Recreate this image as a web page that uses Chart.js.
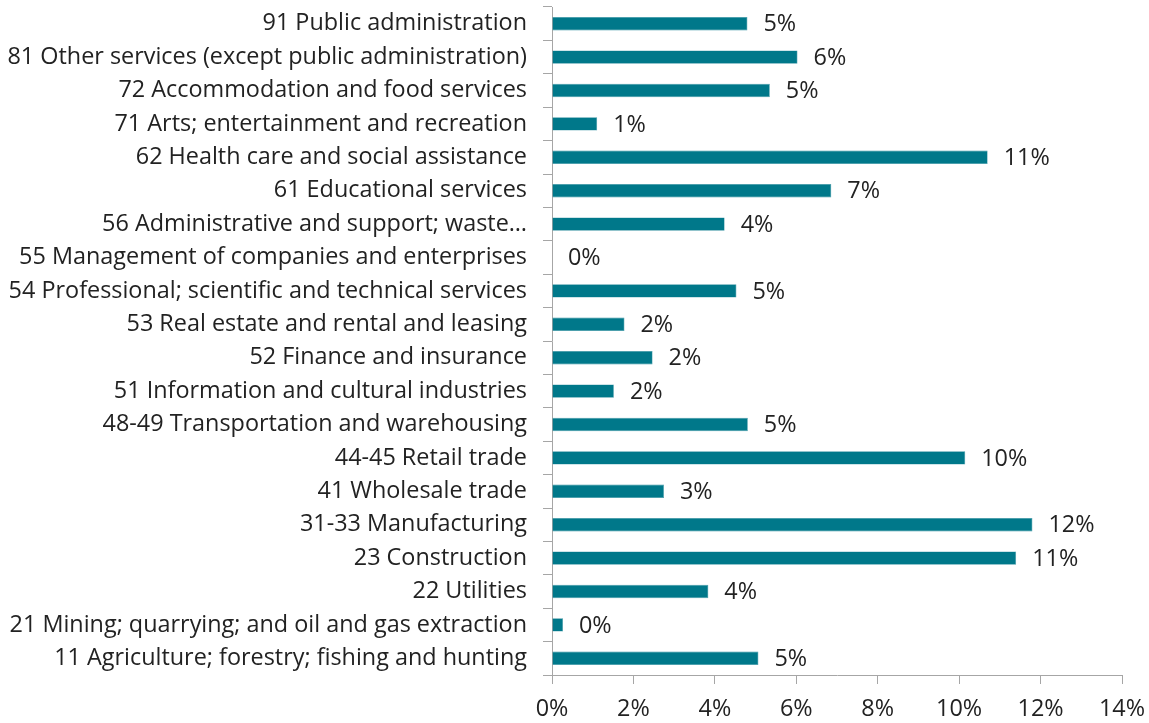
<!DOCTYPE html>
<html>
<head>
<meta charset="utf-8">
<script src="https://cdn.jsdelivr.net/npm/chart.js@4.4.1/dist/chart.umd.min.js"></script>
<style>
  html, body { margin: 0; padding: 0; background: #ffffff; }
  #wrap { width: 1149px; height: 723px; }
</style>
</head>
<body>
<div id="wrap"><canvas id="industryChart" width="1149" height="723"></canvas></div>
<script>
    // industries, top to bottom
    var industries = [
        '91 Public administration',
        '81 Other services (except public administration)',
        '72 Accommodation and food services',
        '71 Arts; entertainment and recreation',
        '62 Health care and social assistance',
        '61 Educational services',
        '56 Administrative and support; waste\u2026',
        '55 Management of companies and enterprises',
        '54 Professional; scientific and technical services',
        '53 Real estate and rental and leasing',
        '52 Finance and insurance',
        '51 Information and cultural industries',
        '48-49 Transportation and warehousing',
        '44-45 Retail trade',
        '41 Wholesale trade',
        '31-33 Manufacturing',
        '23 Construction',
        '22 Utilities',
        '21 Mining; quarrying; and oil and gas extraction',
        '11 Agriculture; forestry; fishing and hunting'
    ];
    // share of total, in percent
    var shares = [4.80, 6.03, 5.35, 1.11, 10.70, 6.86, 4.24, 0.0, 4.53, 1.78,
                  2.47, 1.52, 4.81, 10.15, 2.75, 11.80, 11.40, 3.84, 0.27, 5.07];
    var xMax = 14;
    var xStep = 2;

    var fontFamily = '"Open Sans", sans-serif';
    var fontSize = 23.4;
    var textColor = '#222222';
    var axisColor = '#a6a6a6';

    // value labels to the right of each bar
    var valueLabels = {
        id: 'valueLabels',
        afterDatasetsDraw: function(chart) {
            var ctx = chart.ctx;
            var meta = chart.getDatasetMeta(0);
            ctx.save();
            ctx.font = fontSize + 'px ' + fontFamily;
            ctx.fillStyle = textColor;
            ctx.textAlign = 'left';
            ctx.textBaseline = 'middle';
            meta.data.forEach(function(bar, i) {
                var v = chart.data.datasets[0].data[i];
                ctx.fillText(Math.round(v) + '%', bar.x + 16, bar.y + 1);
            });
            ctx.restore();
        }
    };

    var ctx = document.getElementById('industryChart').getContext('2d');
    var industryChart = new Chart(ctx, {
        type: 'bar',
        data: {
            labels: industries,
            datasets: [{
                data: shares,
                backgroundColor: '#00788a',
                borderColor: '#3a95a3',
                borderWidth: 0.6,
                borderSkipped: 'start',
                barPercentage: 0.8,
                categoryPercentage: 0.5
            }]
        },
        plugins: [valueLabels],
        options: {
            indexAxis: 'y',
            responsive: false,
            animation: false,
            layout: {
                padding: { top: 7, right: 27, left: 0, bottom: 0 }
            },
            plugins: {
                legend: { display: false },
                tooltip: { enabled: false }
            },
            scales: {
                x: {
                    min: 0,
                    max: xMax,
                    afterFit: function(scale) {
                        scale.height = 48;
                        scale.paddingLeft = 0;
                        scale.paddingRight = 0;
                    },
                    ticks: {
                        stepSize: xStep,
                        padding: 11,
                        color: textColor,
                        font: { family: fontFamily, size: fontSize },
                        callback: function(v) { return v + '%'; }
                    },
                    grid: {
                        drawOnChartArea: false,
                        tickLength: 9,
                        color: axisColor
                    },
                    border: { color: axisColor, width: 1 }
                },
                y: {
                    afterFit: function(scale) {
                        scale.width = 552;
                        scale.paddingTop = 0;
                        scale.paddingBottom = 0;
                    },
                    ticks: {
                        padding: 16,
                        color: textColor,
                        autoSkip: false,
                        font: { family: fontFamily, size: fontSize }
                    },
                    grid: {
                        offset: true,
                        drawOnChartArea: false,
                        tickLength: 9,
                        color: axisColor
                    },
                    border: { color: axisColor, width: 1 }
                }
            }
        }
    });
</script>
</body>
</html>
